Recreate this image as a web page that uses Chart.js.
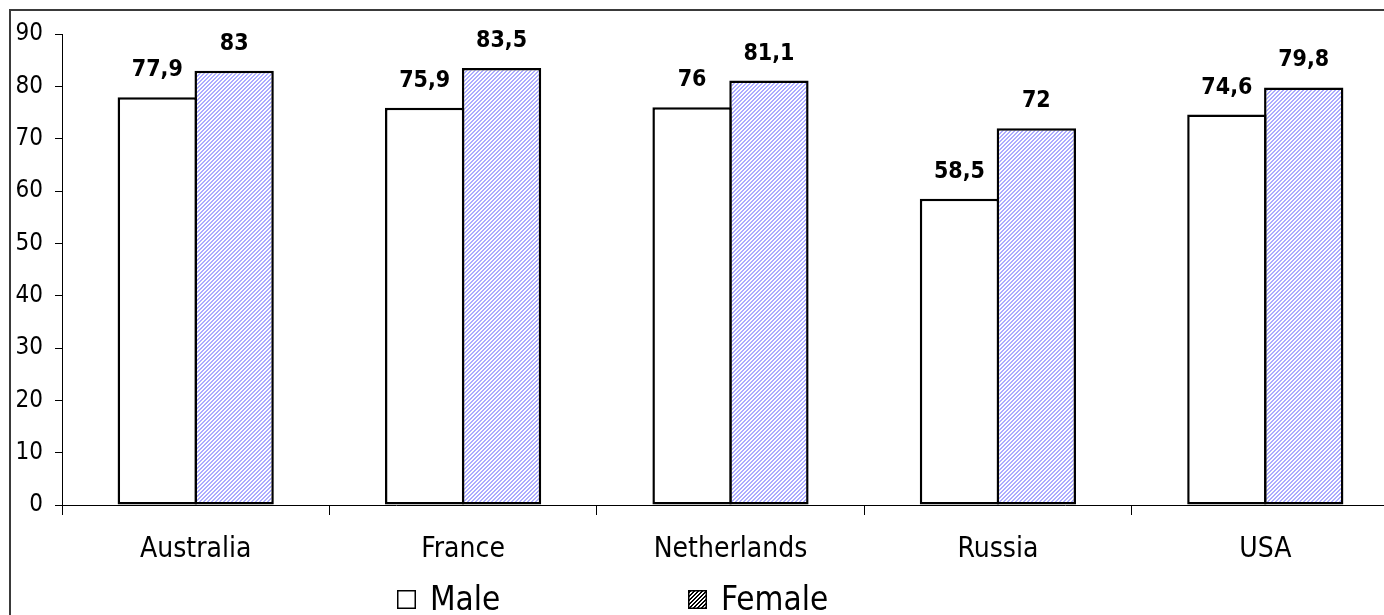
<!DOCTYPE html>
<html><head><meta charset="utf-8">
<script src="https://cdn.jsdelivr.net/npm/chart.js@4"></script>
<style>
html,body{margin:0;padding:0;background:#fff;overflow:hidden;width:1384px;height:615px;}
#frame{position:absolute;left:9px;top:9px;width:2000px;height:1000px;border:2px solid #3a3a3a;box-sizing:border-box;}
#wrap{position:absolute;left:0;top:0;width:1420px;height:615px;}
</style></head><body>
<div id="frame"></div>
<div id="wrap"><canvas id="c" width="1420" height="615"></canvas></div>
<script>
const categories = ['Australia', 'France', 'Netherlands', 'Russia', 'USA'];
const seriesNames = ['Male', 'Female'];
const maleValues = [77.9, 75.9, 76, 58.5, 74.6];
const femaleValues = [83, 83.5, 81.1, 72, 79.8];
const yTicks = [0, 10, 20, 30, 40, 50, 60, 70, 80, 90];

const FONT = "'DejaVu Sans Condensed', 'DejaVu Sans', sans-serif";

function makeHatch(color, bg, period, thick) {
  const c = document.createElement('canvas');
  c.width = period; c.height = period;
  const g = c.getContext('2d');
  const img = g.createImageData(period, period);
  for (let y = 0; y < period; y++) {
    for (let x = 0; x < period; x++) {
      const on = ((x + y) % period) < thick;
      const col = on ? color : bg;
      const i = (y * period + x) * 4;
      img.data[i] = col[0]; img.data[i+1] = col[1]; img.data[i+2] = col[2]; img.data[i+3] = 255;
    }
  }
  g.putImageData(img, 0, 0);
  return c;
}

const ctx0 = document.getElementById('c').getContext('2d');
const femalePattern = ctx0.createPattern(makeHatch([172,172,255],[255,255,255],4,2), 'repeat');
const legendFemalePattern = ctx0.createPattern(makeHatch([0,0,0],[255,255,255],4,2), 'repeat');

const fmt = v => String(v).replace('.', ',');

const valueLabels = {
  id: 'valueLabels',
  afterDatasetsDraw(chart) {
    const ctx = chart.ctx;
    ctx.save();
    ctx.font = "bold 23px " + FONT;
    ctx.fillStyle = '#000';
    ctx.textAlign = 'center';
    ctx.textBaseline = 'alphabetic';
    chart.data.datasets.forEach((ds, di) => {
      const meta = chart.getDatasetMeta(di);
      meta.data.forEach((bar, i) => {
        ctx.fillText(fmt(ds.data[i]), bar.x, bar.y - 21);
      });
    });
    ctx.restore();
  }
};

const customLegend = {
  id: 'customLegend',
  afterDraw(chart) {
    const ctx = chart.ctx;
    const a = chart.chartArea;
    const offsets = [335, 626];
    const fills = ['#fff', legendFemalePattern];
    ctx.save();
    ctx.font = "33px " + FONT;
    ctx.textBaseline = 'alphabetic';
    ctx.textAlign = 'left';
    chart.data.datasets.forEach((ds, i) => {
      const x = a.left + offsets[i];
      const size = 19;
      const by = 590;
      ctx.fillStyle = fills[i];
      ctx.fillRect(x, by, size, size);
      ctx.strokeStyle = '#000';
      ctx.lineWidth = 1.5;
      ctx.strokeRect(x + 0.75, by + 0.75, size - 1.5, size - 1.5);
      ctx.fillStyle = '#000';
      ctx.fillText(ds.label, x + size + 14, 610);
    });
    ctx.restore();
  }
};

new Chart(document.getElementById('c'), {
  type: 'bar',
  data: {
    labels: categories,
    datasets: [
      { label: seriesNames[0], data: maleValues, backgroundColor: '#fff', borderColor: '#000', borderWidth: 2.5, borderSkipped: false },
      { label: seriesNames[1], data: femaleValues, backgroundColor: femalePattern, borderColor: '#000', borderWidth: 2.5, borderSkipped: false }
    ]
  },
  options: {
    responsive: false,
    animation: false,
    devicePixelRatio: 1,
    layout: { padding: { left: 0, top: 34, right: 21, bottom: 0 } },
    datasets: { bar: { categoryPercentage: 0.575, barPercentage: 1.032 } },
    plugins: { legend: { display: false }, tooltip: { enabled: false } },
    scales: {
      x: {
        offset: true,
        grid: { display: true, drawOnChartArea: false, drawTicks: true, tickLength: 10, color: '#000', offset: true },
        border: { display: true, color: '#000', width: 1 },
        ticks: { color: '#000', font: { family: FONT, size: 28 }, padding: 18, maxRotation: 0 },
        afterFit(s) { s.height = 110; }
      },
      y: {
        min: 0, max: 90,
        afterBuildTicks(s) { s.ticks = yTicks.map(v => ({ value: v })); },
        grid: { display: true, drawOnChartArea: false, drawTicks: true, tickLength: 7, color: '#000' },
        border: { display: true, color: '#000', width: 1 },
        ticks: { color: '#000', font: { family: FONT, size: 24 }, padding: 12 },
        afterFit(s) { s.width = 62; }
      }
    }
  },
  plugins: [valueLabels, customLegend]
});
</script>
</body></html>
